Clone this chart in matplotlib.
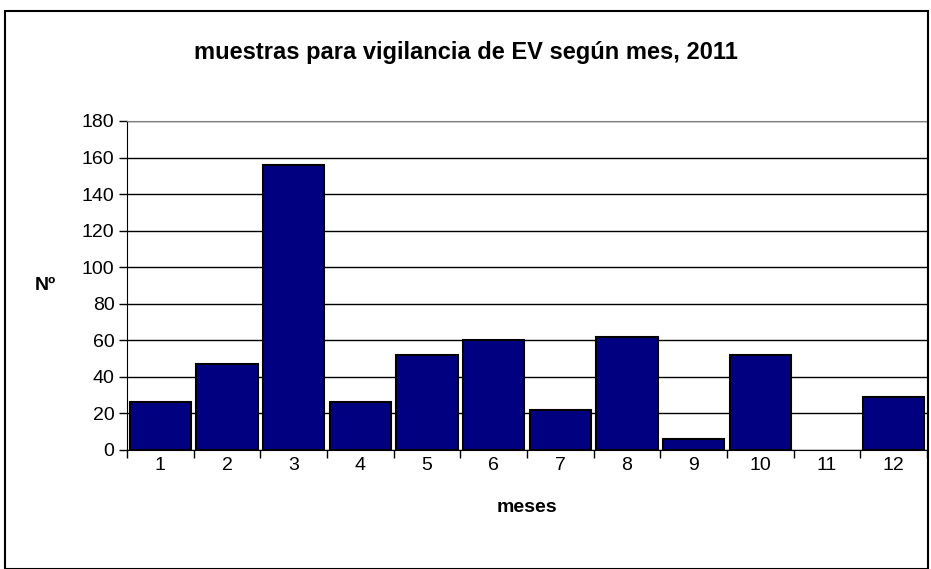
import matplotlib.pyplot as plt
from matplotlib.patches import Rectangle

meses = ['1', '2', '3', '4', '5', '6', '7', '8', '9', '10', '11', '12']
muestras = [26, 47, 156, 26, 52, 60, 22, 62, 6, 52, 0, 29]

plt.rcParams['font.family'] = ['Liberation Sans', 'DejaVu Sans']

fig = plt.figure(figsize=(9.31, 5.69), dpi=100)
ax = fig.add_axes([127 / 931, 1 - 450 / 569, 800 / 931, 329 / 569])

x = list(range(len(meses)))
# en Excel las barras con valor 0 no muestran borde
bordes = [1.5 if v > 0 else 0 for v in muestras]
ax.bar(x, muestras, width=0.92, color='#000080', edgecolor='black', linewidth=bordes, zorder=3)

ax.set_xlim(-0.5, len(meses) - 0.5)
ax.set_ylim(0, 180)
ax.set_yticks(range(0, 181, 20))
ax.yaxis.grid(True, color='black', linewidth=1, zorder=0)

ax.set_xticks(x)
ax.set_xticklabels(meses, fontsize=14)
ax.set_xticks([i - 0.5 for i in range(len(meses) + 1)], minor=True)
ax.tick_params(axis='x', which='major', length=0, pad=5)
ax.tick_params(axis='x', which='minor', length=6, width=1, color='black')
ax.tick_params(axis='y', labelsize=14, length=6, width=1, pad=3)

for side in ['top', 'right']:
    ax.spines[side].set_color('#808080')
for side in ['left', 'bottom']:
    ax.spines[side].set_color('black')

ax.set_xlabel('meses', fontsize=14, fontweight='bold', labelpad=18)
ax.set_ylabel('Nº', fontsize=14, fontweight='bold', rotation=0, labelpad=26, va='center')
fig.text(0.5, 1 - 52 / 569, 'muestras para vigilancia de EV según mes, 2011',
         ha='center', va='center', fontsize=17, fontweight='bold')

fig.patches.append(Rectangle((5 / 931, 0), 923 / 931, 1 - 11 / 569, transform=fig.transFigure,
                             fill=False, edgecolor='black', linewidth=1.5))

fig.savefig('out.png', dpi=100)
